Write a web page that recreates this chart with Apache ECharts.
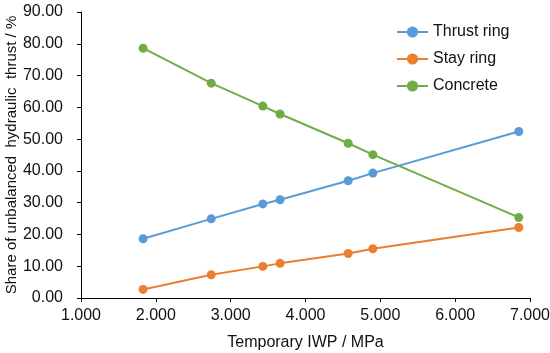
<!DOCTYPE html>
<html>
<head>
<meta charset="utf-8">
<script src="https://cdn.jsdelivr.net/npm/echarts@6/dist/echarts.min.js"></script>
<style>html,body{margin:0;padding:0;background:#fff;}#c{width:550px;height:353px;}</style>
</head>
<body>
<div id="c"></div>
<script>
var iwp = [1.83, 2.74, 3.43, 3.66, 4.57, 4.90, 6.85];
var thrustRing = [18.65, 24.9, 29.6, 30.9, 36.9, 39.3, 52.4];
var stayRing = [2.7, 7.3, 9.95, 10.9, 14.0, 15.5, 22.2];
var concrete = [78.6, 67.6, 60.4, 57.9, 48.7, 45.1, 25.35];
var seriesNames = ['Thrust ring', 'Stay ring', 'Concrete'];
var colors = ['#5B9BD5', '#ED7D31', '#70AD47'];

function pairs(ys){ return iwp.map(function(x,i){ return [x, ys[i]]; }); }
var font = 'Liberation Sans, Arial, sans-serif';
var txt = '#111';
var chart = echarts.init(document.getElementById('c'));
var data = [thrustRing, stayRing, concrete];
chart.setOption({
  animation: false,
  textStyle: {fontFamily: font},
  grid: {left: 81, right: 20, top: 12, bottom: 55, containLabel: false, outerBoundsMode: 'none'},
  legend: {
    orient: 'vertical', left: 391, top: 19,
    itemWidth: 31, itemHeight: 14, itemGap: 11,
    textStyle: {fontSize: 16, color: txt, fontFamily: font},
    data: seriesNames
  },
  xAxis: {
    type: 'value', min: 1, max: 7, interval: 1,
    name: 'Temporary IWP / MPa', nameLocation: 'middle', nameGap: 37, nameMoveOverlap: false,
    nameTextStyle: {fontSize: 16, color: txt, fontFamily: font},
    axisLine: {lineStyle: {color: '#000', width: 1}},
    axisTick: {show: true, length: 4, lineStyle: {color: '#000'}},
    axisLabel: {fontSize: 16, color: txt, margin: 10, formatter: function(v){return v.toFixed(3);}},
    splitLine: {show: false}
  },
  yAxis: {
    type: 'value', min: 0, max: 90, interval: 10,
    name: 'Share of unbalanced  hydraulic  thrust / %', nameLocation: 'middle', nameGap: 62, nameMoveOverlap: false,
    nameTextStyle: {fontSize: 15, color: txt, fontFamily: font},
    axisLine: {show: true, lineStyle: {color: '#000', width: 1}},
    axisTick: {show: true, length: 4, lineStyle: {color: '#000'}},
    axisLabel: {fontSize: 16, color: txt, margin: 18, formatter: function(v){return v.toFixed(2);}},
    splitLine: {show: false}
  },
  series: seriesNames.map(function(n, i){
    return {
      name: n, type: 'line', data: pairs(data[i]),
      symbol: 'circle', symbolSize: 9,
      itemStyle: {color: colors[i]},
      lineStyle: {color: colors[i], width: 2}
    };
  })
});
</script>
</body>
</html>
